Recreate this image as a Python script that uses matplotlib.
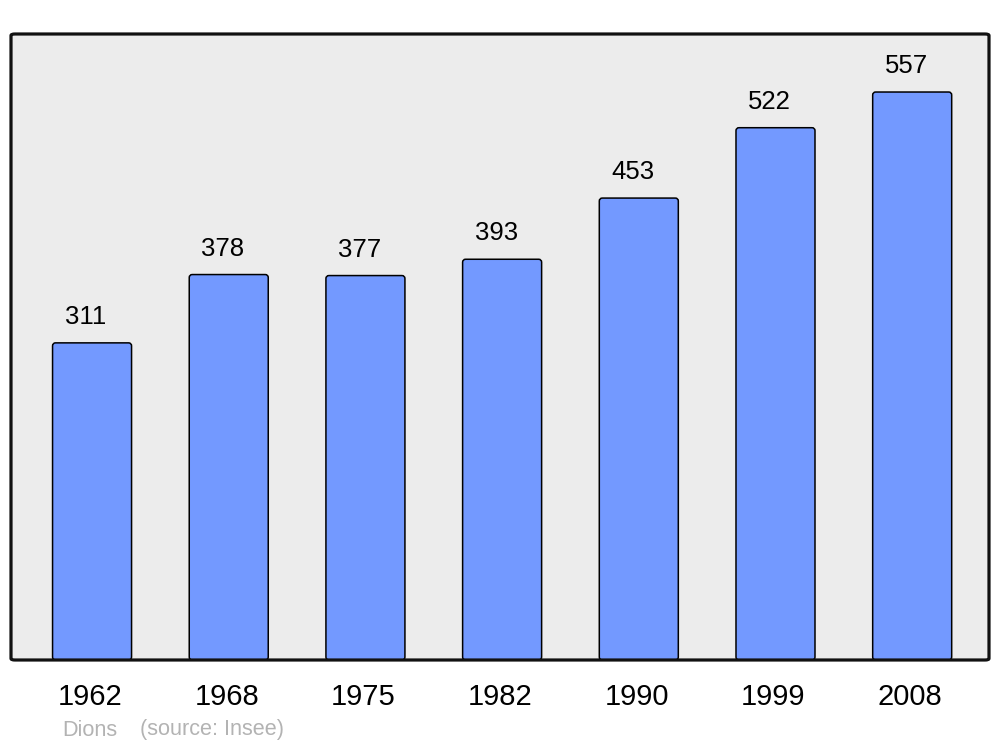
import matplotlib
matplotlib.use("Agg")
import matplotlib.pyplot as plt
from matplotlib.patches import FancyBboxPatch
from matplotlib.transforms import ScaledTranslation

plt.rcParams['font.family'] = ['Liberation Sans', 'DejaVu Sans']

years = ['1962', '1968', '1975', '1982', '1990', '1999', '2008']
population = [311, 378, 377, 393, 453, 522, 557]
commune = 'Dions'
source = '(source: Insee)'

W, H = 1000, 747
fig = plt.figure(figsize=(W / 100, H / 100), dpi=100)
ax = fig.add_axes([11 / W, 87 / H, 978 / W, 626 / H])

xmin, xmax = -0.593, 6.562
ymin, ymax = 0, 613.9
ax.set_xlim(xmin, xmax)
ax.set_ylim(ymin, ymax)
for s in ax.spines.values():
    s.set_visible(False)
ax.patch.set_visible(False)

# frame
asp_ax = 626 / 978
bg = FancyBboxPatch((0, 0), 1, 1, boxstyle="round,pad=0,rounding_size=0.004",
                    mutation_aspect=asp_ax, transform=ax.transAxes,
                    facecolor='#ececec', edgecolor='none', zorder=0, clip_on=False)
ax.add_patch(bg)
edge = FancyBboxPatch((0, 0), 1, 1, boxstyle="round,pad=0,rounding_size=0.004",
                      mutation_aspect=asp_ax, transform=ax.transAxes,
                      facecolor='none', edgecolor='#111111', linewidth=2.3,
                      zorder=5, clip_on=False)
ax.add_patch(edge)

px_x = 978 / (xmax - xmin)
px_y = 626 / (ymax - ymin)
bw = 0.578
for i, v in enumerate(population):
    p = FancyBboxPatch((i - bw / 2, 0), bw, v,
                       boxstyle="round,pad=0,rounding_size=%f" % (3 / px_x),
                       mutation_aspect=px_x / px_y,
                       facecolor='#7399ff', edgecolor='black', linewidth=1.1,
                       zorder=2)
    ax.add_patch(p)
    ax.annotate(str(v), (i, v), xytext=(-4.3, 10), textcoords='offset points',
                ha='center', va='bottom', fontsize=18.5, color='black', zorder=4)

ax.set_xticks(range(len(years)))
ax.set_xticklabels(years, fontsize=21)
ax.tick_params(axis='x', length=0, pad=16.5)
ax.set_yticks([])
shift = ScaledTranslation(-2 / 100, 0, fig.dpi_scale_trans)
for lbl in ax.get_xticklabels():
    lbl.set_transform(lbl.get_transform() + shift)

fig.text(62 / W, 1 - 730 / H, commune, fontsize=15.6, color='#b3b3b3',
         ha='left', va='center')
fig.text(140 / W, 1 - 730 / H, source, fontsize=15.6, color='#b3b3b3',
         ha='left', va='center')

fig.savefig('out.png', dpi=100)
